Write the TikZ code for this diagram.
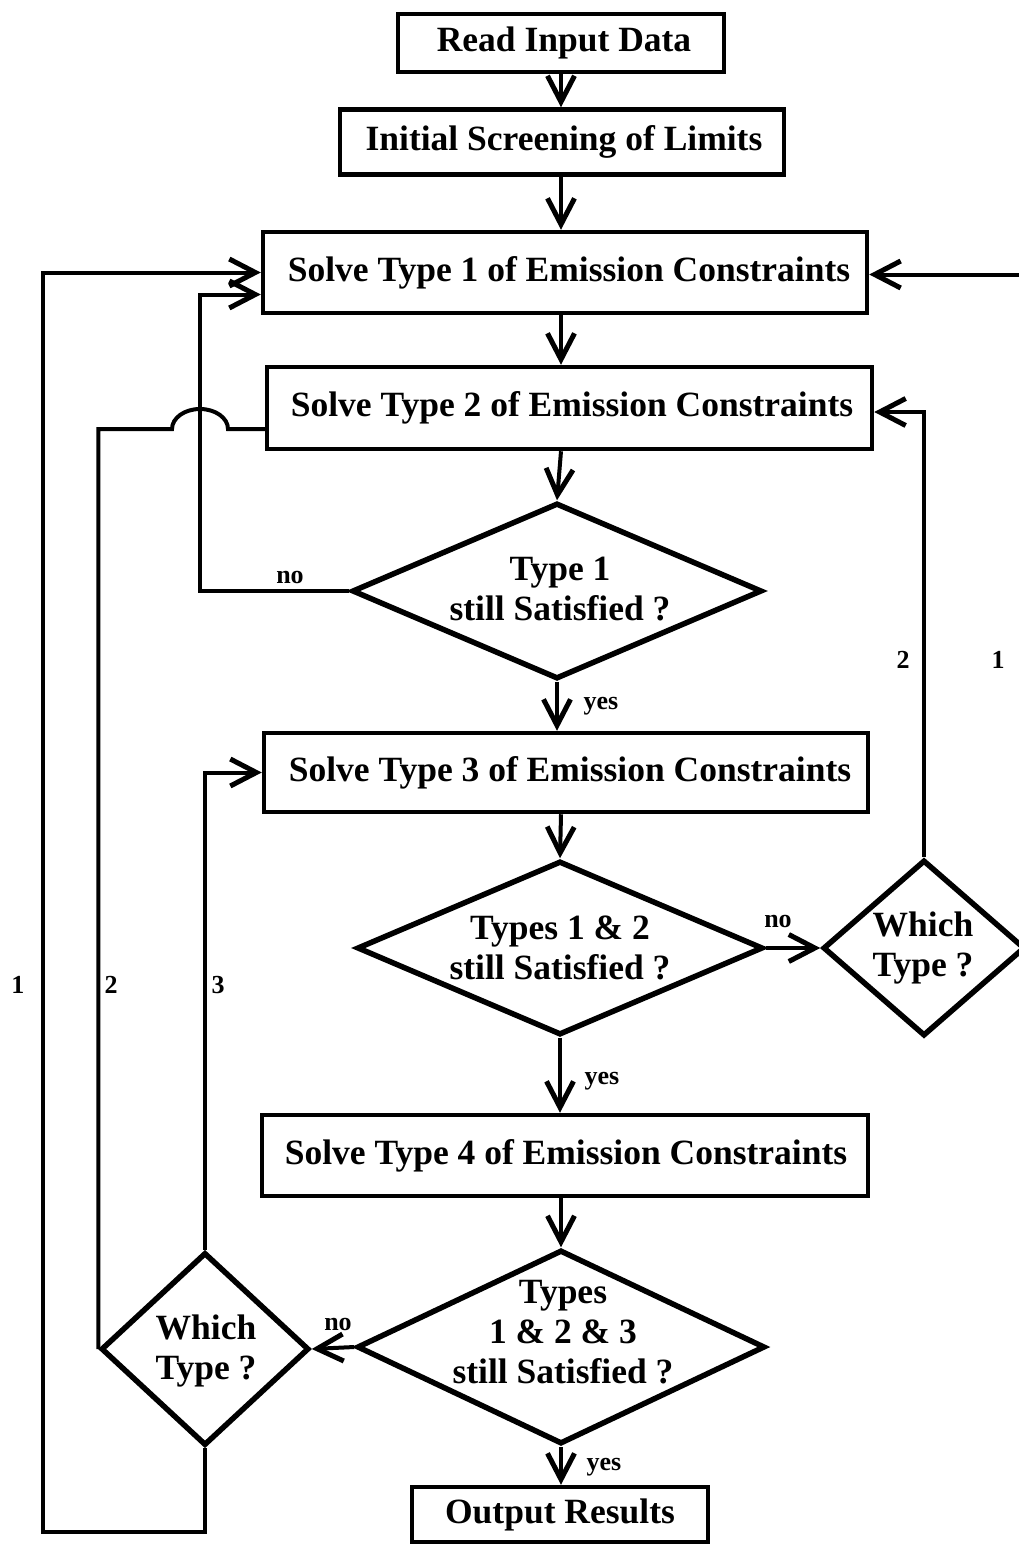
\documentclass[tikz,border=0pt]{standalone}
\usepackage{fontspec}
\setmainfont{Liberation Serif}
\usetikzlibrary{arrows.meta,shapes.geometric}

\begin{document}
\begin{tikzpicture}[x=1pt,y=-1pt,
  txt/.style={font=\bfseries\fontsize{35.5pt}{40pt}\selectfont, align=center, inner sep=0pt},
  lbl/.style={font=\bfseries\fontsize{26pt}{28pt}\selectfont, inner sep=0pt},
  proc/.style={draw, rectangle, line width=4.5pt, inner sep=0pt},
  decision/.style={draw, diamond, line width=5.5pt, inner sep=0pt},
  conn/.style={line width=4pt, line join=miter},
  arr/.style={conn, -{Straight Barb[length=26pt,width=27pt,line width=5pt]}}]

% page area
\useasboundingbox[fill=white] (0,0) rectangle (1018,1544);

% main column axis
\coordinate (axis) at (561,0);

% process boxes
\node[proc, minimum width=326pt, minimum height=58pt] (read) at (561,43) {};
\node[txt] (readT) at (564,43) {Read Input Data};
\node[proc, minimum width=444pt, minimum height=65pt] (screen) at (562,142) {};
\node[txt] (screenT) at (564,142) {Initial Screening of Limits};
\node[proc, minimum width=604pt, minimum height=81pt] (s1) at (565,272.5) {};
\node[txt] (s1T) at (569,272.5) {Solve Type 1 of Emission Constraints};
\node[proc, minimum width=605pt, minimum height=82pt] (s2) at (569.5,408) {};
\node[txt] (s2T) at (572,408) {Solve Type 2 of Emission Constraints};
\node[proc, minimum width=604pt, minimum height=79pt] (s3) at (566,772.5) {};
\node[txt] (s3T) at (570,772.5) {Solve Type 3 of Emission Constraints};
\node[proc, minimum width=606pt, minimum height=81pt] (s4) at (565,1155.5) {};
\node[txt] (s4T) at (566,1155.5) {Solve Type 4 of Emission Constraints};
\node[proc, minimum width=296pt, minimum height=55pt] (out) at (560,1514.5) {};
\node[txt] (outT) at (560,1514.5) {Output Results};

% decisions
\node[decision, minimum width=410pt, minimum height=176pt] (d1) at (557,591) {};
\node[txt] (d1T) at (560,589) {Type 1\\still Satisfied ?};
\node[decision, minimum width=406pt, minimum height=174pt] (d2) at (560,948) {};
\node[txt] (d2T) at (560,948) {Types 1 \& 2\\still Satisfied ?};
\node[decision, minimum width=408pt, minimum height=194pt] (d3) at (561,1347) {};
\node[txt] (d3T) at (563,1332) {Types\\1 \& 2 \& 3\\still Satisfied ?};
\node[decision, minimum width=202pt, minimum height=176pt] (rd) at (924,948) {};
\node[txt] (rdT) at (923,948) {Which\\Type ?};
\node[decision, minimum width=208pt, minimum height=193pt] (ld) at (205,1349) {};
\node[txt] (ldT) at (206,1351) {Which\\Type ?};

% main flow
\draw[arr] (read.south -| axis) -- (screen.north -| axis);
\draw[arr] (screen.south -| axis) -- (s1.north -| axis);
\draw[arr] (s1.south -| axis) -- (s2.north -| axis);
\draw[arr] (s2.south -| axis) -- (d1.north);
\draw[arr] (d1.south) -- (s3.north -| d1.south);
\draw[arr] (s3.south -| axis) -- (d2.north);
\draw[arr] (d2.south) -- (s4.north -| d2.south);
\draw[arr] (s4.south -| axis) -- (d3.north);
\draw[arr] (d3.south) -- (out.north -| d3.south);

% first check fails: back to type 1
\coordinate (noCorner) at (200,591);
\draw[arr] (d1.west) -- (noCorner) |- ([yshift=-22pt]s1.west);

% second check fails: choose type on the right
\draw[arr] (d2.east) -- (rd.west);
\draw[arr] (rd.north) |- ([yshift=-4pt]s2.east);
\coordinate (rightRail) at (1032,948);
\draw[arr] (rd.east) -- (rightRail) |- ([yshift=-2pt]s1.east);

% third check fails: choose type on the left
\draw[arr] (d3.west) -- (ld.east);
\draw[arr] (ld.north) |- (s3.west);
\coordinate (hopL) at (172,429);
\draw[conn] (ld.west) -- (ld.west |- hopL) -- (hopL)
  arc[start angle=180, end angle=0, x radius=28pt, y radius=20pt]
  -- ([yshift=-21pt]s2.west);
\coordinate (loopBL) at (43,1532);
\draw[arr] (ld.south) |- (loopBL) |- (s1.west);

% branch labels
\node[lbl] (noA) at (290,577) {no};
\node[lbl] (yesA) at (601,706) {yes};
\node[lbl] (noB) at (778,921) {no};
\node[lbl] (yesB) at (602,1081) {yes};
\node[lbl] (noC) at (338,1324) {no};
\node[lbl] (yesC) at (604,1467) {yes};
\node[lbl] (oneL) at (18,985) {1};
\node[lbl] (twoL) at (111,985) {2};
\node[lbl] (threeL) at (218,985) {3};
\node[lbl] (twoR) at (903,660) {2};
\node[lbl] (oneR) at (998,660) {1};
\end{tikzpicture}
\end{document}
